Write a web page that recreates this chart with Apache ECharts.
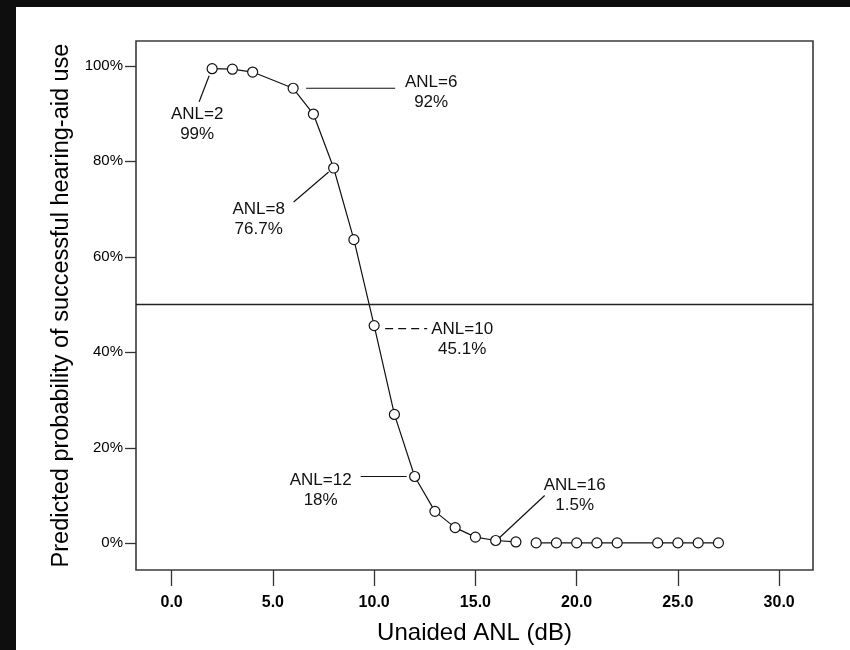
<!DOCTYPE html>
<html>
<head>
<meta charset="utf-8">
<script src="https://cdn.jsdelivr.net/npm/echarts@6/dist/echarts.min.js"></script>
<style>
html,body{margin:0;padding:0;background:#fff;}
#chart{width:850px;height:650px;}
</style>
</head>
<body>
<div id="chart"></div>
<script>
// ---- data ----
const anlMain = [2, 3, 4, 6, 7, 8, 9, 10, 11, 12, 13, 14, 15, 16, 17];
const probMain = [99.4, 99.3, 98.7, 95.3, 89.9, 78.6, 63.6, 45.6, 27.0, 14.0, 6.7, 3.3, 1.3, 0.6, 0.3];
const anlTail = [18, 19, 20, 21, 22, 24, 25, 26, 27];
const probTail = [0.1, 0.1, 0.1, 0.1, 0.1, 0.1, 0.1, 0.1, 0.1];
const xTicks = [0, 5, 10, 15, 20, 25, 30];
const yTicks = [0, 20, 40, 60, 80, 100];
const refLevel = 50;
const annoAnl = [2, 6, 8, 10, 12, 16];
const annoLine1 = ['ANL=2', 'ANL=6', 'ANL=8', 'ANL=10', 'ANL=12', 'ANL=16'];
const annoLine2 = ['99%', '92%', '76.7%', '45.1%', '18%', '1.5%'];

// ---- layout for annotations (pixel offsets relative to the annotated point) ----
const annoLayout = [
  {text: [-15, 56], line: [[-3, 7], [-13, 33]], dashed: false},
  {text: [138, 4], line: [[13, 0], [102, 0]], dashed: false},
  {text: [-75, 51], line: [[-5, 4], [-40, 34]], dashed: false},
  {text: [88, 14], line: [[11, 3], [53, 3]], dashed: true},
  {text: [-94, 14], line: [[-54, 0], [-8, 0]], dashed: false},
  {text: [79, -45], line: [[4, -3], [49, -45]], dashed: false}
];

const FONT = "'Liberation Sans', Arial, Helvetica, sans-serif";
const chart = echarts.init(document.getElementById('chart'), null, {renderer: 'canvas'});

const seriesStyle = {
  type: 'line',
  symbol: 'circle',
  symbolSize: 10,
  lineStyle: {color: '#111', width: 1.2},
  itemStyle: {color: '#fff', borderColor: '#111', borderWidth: 1.2},
  emphasis: {disabled: true},
  silent: true
};

chart.setOption({
  animation: false,
  backgroundColor: '#fff',
  textStyle: {fontFamily: FONT},
  grid: {left: 136, top: 41, right: 37, bottom: 79, show: true, borderColor: '#3a3a3a', borderWidth: 1.6, backgroundColor: 'transparent'},
  xAxis: {
    type: 'value', min: -1.76, max: 31.67,
    axisLine: {show: false, onZero: false},
    splitLine: {show: false},
    axisTick: {show: true, length: 16, lineStyle: {color: '#333', width: 1.3}, customValues: xTicks},
    axisLabel: {customValues: xTicks, margin: 25, color: '#000', fontFamily: FONT, fontSize: 16, fontWeight: 'bold', formatter: v => v.toFixed(1)},
    name: 'Unaided ANL (dB)', nameLocation: 'middle', nameGap: 51,
    nameTextStyle: {color: '#000', fontFamily: FONT, fontSize: 24}
  },
  yAxis: {
    type: 'value', min: -5.58, max: 105.2,
    axisLine: {show: false, onZero: false},
    splitLine: {show: false},
    axisTick: {show: true, length: 11, lineStyle: {color: '#333', width: 1.3}, customValues: yTicks},
    axisLabel: {customValues: yTicks, margin: 13, color: '#000', fontFamily: FONT, fontSize: 15, formatter: v => v + '%'},
    name: 'Predicted probability of successful hearing-aid use', nameLocation: 'middle', nameGap: 56,
    nameTextStyle: {color: '#000', fontFamily: FONT, fontSize: 23.5}
  },
  series: [
    Object.assign({}, seriesStyle, {
      data: anlMain.map((x, i) => [x, probMain[i]]),
      markLine: {
        silent: true, symbol: 'none', label: {show: false},
        lineStyle: {color: '#222', width: 1.3, type: 'solid'},
        emphasis: {disabled: true},
        data: [{yAxis: refLevel}]
      }
    }),
    Object.assign({}, seriesStyle, {data: anlTail.map((x, i) => [x, probTail[i]])})
  ]
});

// ---- annotations & frame ----
const graphics = [
  {type: 'rect', shape: {x: 0, y: 0, width: 850, height: 7}, style: {fill: '#0e0e0e'}, silent: true},
  {type: 'rect', shape: {x: 0, y: 0, width: 16, height: 650}, style: {fill: '#0e0e0e'}, silent: true}
];
annoAnl.forEach((a, i) => {
  const idx = anlMain.indexOf(a);
  const p = chart.convertToPixel({gridIndex: 0}, [a, probMain[idx]]);
  const L = annoLayout[i];
  graphics.push({
    type: 'line', silent: true,
    shape: {x1: p[0] + L.line[0][0], y1: p[1] + L.line[0][1], x2: p[0] + L.line[1][0], y2: p[1] + L.line[1][1]},
    style: {stroke: '#111', lineWidth: 1.2, lineDash: L.dashed ? [8, 5] : null}
  });
  graphics.push({
    type: 'text', silent: true,
    x: p[0] + L.text[0], y: p[1] + L.text[1],
    style: {text: annoLine1[i] + '\n' + annoLine2[i], font: '17px ' + FONT, fill: '#111', align: 'center', verticalAlign: 'middle', lineHeight: 20}
  });
});
chart.setOption({graphic: graphics});
</script>
</body>
</html>
